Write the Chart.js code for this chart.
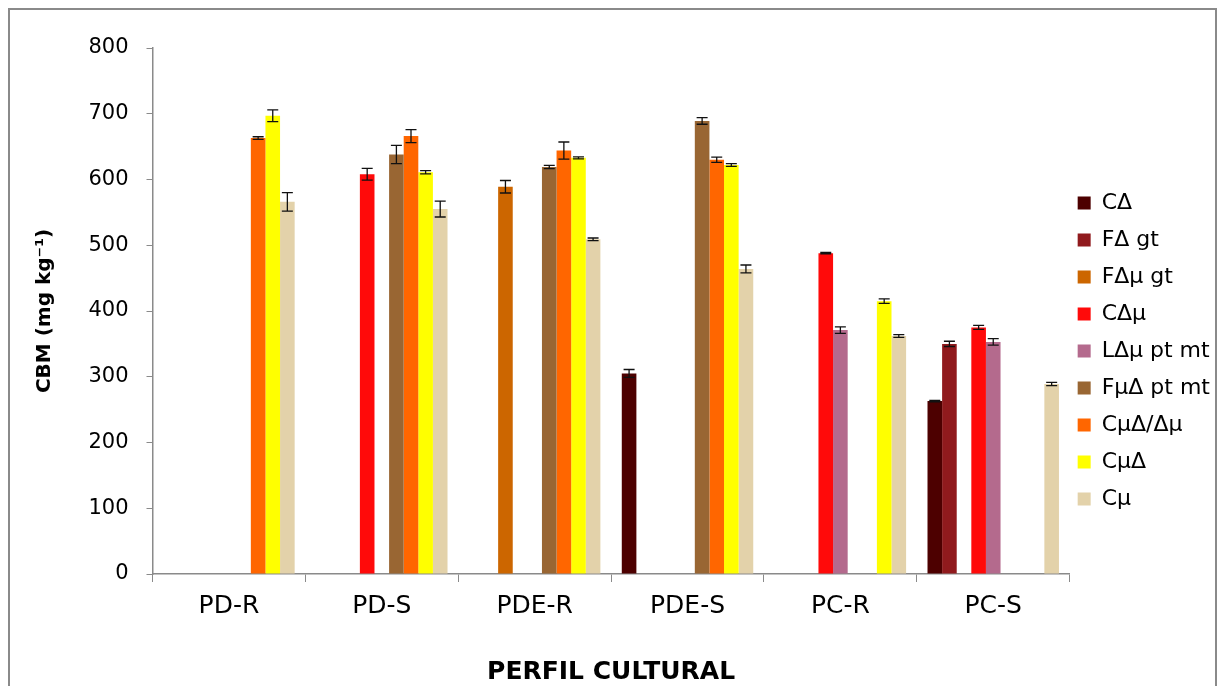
<!DOCTYPE html>
<html>
<head>
<meta charset="utf-8">
<script src="https://cdn.jsdelivr.net/npm/chart.js@4.4.1/dist/chart.umd.min.js"></script>
<style>
  body { margin: 0; background: #fff; }
  #wrap { position: relative; width: 1221px; height: 686px; overflow: hidden; }
  #frame { position: absolute; left: 8px; top: 8px; width: 1205px; height: 700px;
           border: 2px solid #8a8a8a; pointer-events: none; }
</style>
</head>
<body>
<div id="wrap">
  <canvas id="chartCbm" width="1221" height="686"></canvas>
  <div id="frame"></div>
</div>
<script>
// categories and series
var categories = ['PD-R', 'PD-S', 'PDE-R', 'PDE-S', 'PC-R', 'PC-S'];
var seriesNames = ['CΔ', 'FΔ gt', 'FΔμ gt', 'CΔμ', 'LΔμ pt mt', 'FμΔ pt mt', 'CμΔ/Δμ', 'CμΔ', 'Cμ'];

// values (mg kg-1), null = no bar
var valCD     = [null, null, null, 305, null, 263];
var valFDgt   = [null, null, null, null, null, 350];
var valFDMgt  = [null, null, 589, null, null, null];
var valCDM    = [null, 608, null, null, 488, 375];
var valLDMpt  = [null, null, null, null, 371, 353];
var valFMDpt  = [null, 638, 619, 689, null, null];
var valCMDDM  = [663, 666, 644, 630, null, null];
var valCMD    = [697, 611, 633, 622, 415, null];
var valCM     = [566, 555, 509, 464, 362, 289];

// error bars (+/-)
var errCD     = [null, null, null, 6, null, 1];
var errFDgt   = [null, null, null, null, null, 4];
var errFDMgt  = [null, null, 9.5, null, null, null];
var errCDM    = [null, 9, null, null, 1, 3];
var errLDMpt  = [null, null, null, null, 5, 5];
var errFMDpt  = [null, 14, 2.5, 5, null, null];
var errCMDDM  = [2, 10, 13, 4, null, null];
var errCMD    = [9, 2.5, 1.5, 2, 3.5, null];
var errCM     = [14, 12, 2, 6, 2, 2.5];

var yTicks = [0, 100, 200, 300, 400, 500, 600, 700, 800];

var allValues = [valCD, valFDgt, valFDMgt, valCDM, valLDMpt, valFMDpt, valCMDDM, valCMD, valCM];
var allErrors = [errCD, errFDgt, errFDMgt, errCDM, errLDMpt, errFMDpt, errCMDDM, errCMD, errCM];
var colors = ['#4d0000', '#901a1d', '#cc6600', '#ff0a0a', '#b46a8d', '#996633', '#ff6600', '#ffff00', '#e3d2aa'];

var axisGrey = '#8a8a8a';
var fontFam = "'DejaVu Sans', sans-serif";

// draws the +/- whiskers on top of each bar
var errorBarPlugin = {
    id: 'errorBars',
    afterDatasetsDraw: function(chart) {
        var ctx = chart.ctx;
        var yScale = chart.scales.y;
        ctx.save();
        ctx.strokeStyle = '#111';
        ctx.lineWidth = 1.3;
        chart.data.datasets.forEach(function(ds, di) {
            var meta = chart.getDatasetMeta(di);
            meta.data.forEach(function(bar, i) {
                var v = ds.data[i], e = allErrors[di][i];
                if (v == null || e == null) return;
                var x = bar.x;
                var yTop = yScale.getPixelForValue(v + e);
                var yBot = yScale.getPixelForValue(v - e);
                ctx.beginPath();
                ctx.moveTo(x, yTop); ctx.lineTo(x, yBot);
                ctx.moveTo(x - 5.5, yTop); ctx.lineTo(x + 5.5, yTop);
                ctx.moveTo(x - 5.5, yBot); ctx.lineTo(x + 5.5, yBot);
                ctx.stroke();
            });
        });
        ctx.restore();
    }
};

// nudge legend a bit closer to plot area
var legendShift = {
    id: 'legendShift',
    afterLayout: function(chart) {
        if (chart.legend) { chart.legend.left -= 7; chart.legend.right -= 7; }
    }
};

var datasets = seriesNames.map(function(name, i) {
    return {
        label: name,
        data: allValues[i],
        backgroundColor: colors[i],
        borderWidth: 0
    };
});

var ctx = document.getElementById('chartCbm');
var myBarChartCbm = new Chart(ctx, {
    type: 'bar',
    data: { labels: categories, datasets: datasets },
    plugins: [errorBarPlugin, legendShift],
    options: {
        responsive: false,
        animation: false,
        layout: { padding: { top: 48, bottom: 32, left: 0, right: -6 } },
        datasets: { bar: { categoryPercentage: 0.86, barPercentage: 1.0 } },
        plugins: {
            tooltip: { enabled: false },
            legend: {
                position: 'right',
                labels: {
                    boxWidth: 13,
                    boxHeight: 13,
                    padding: 15,
                    color: '#000',
                    font: { family: fontFam, size: 22 }
                }
            }
        },
        scales: {
            x: {
                afterFit: function(s) { s.height = 80; },
                grid: {
                    drawOnChartArea: false,
                    drawTicks: true,
                    tickLength: 8,
                    color: axisGrey,
                    offset: true
                },
                border: { color: axisGrey, width: 1.5 },
                ticks: {
                    color: '#000',
                    padding: 9,
                    font: { family: fontFam, size: 25 }
                },
                title: {
                    display: true,
                    text: 'PERFIL CULTURAL',
                    color: '#000',
                    font: { family: fontFam, size: 25, weight: 'bold' },
                    padding: { top: 0, bottom: -33 }
                }
            },
            y: {
                min: 0,
                max: 800,
                afterFit: function(s) { s.width = 152.5; },
                afterBuildTicks: function(s) {
                    s.ticks = yTicks.map(function(v) { return { value: v }; });
                },
                grid: {
                    drawOnChartArea: false,
                    drawTicks: true,
                    tickLength: 6,
                    color: axisGrey
                },
                border: { color: axisGrey, width: 1.5 },
                ticks: {
                    color: '#000',
                    padding: 18,
                    font: { family: fontFam, size: 21 }
                },
                title: {
                    display: true,
                    text: 'CBM (mg kg⁻¹)',
                    color: '#000',
                    font: { family: fontFam, size: 20, weight: 'bold' },
                    padding: { top: 33, bottom: 0 }
                }
            }
        }
    }
});
</script>
</body>
</html>
